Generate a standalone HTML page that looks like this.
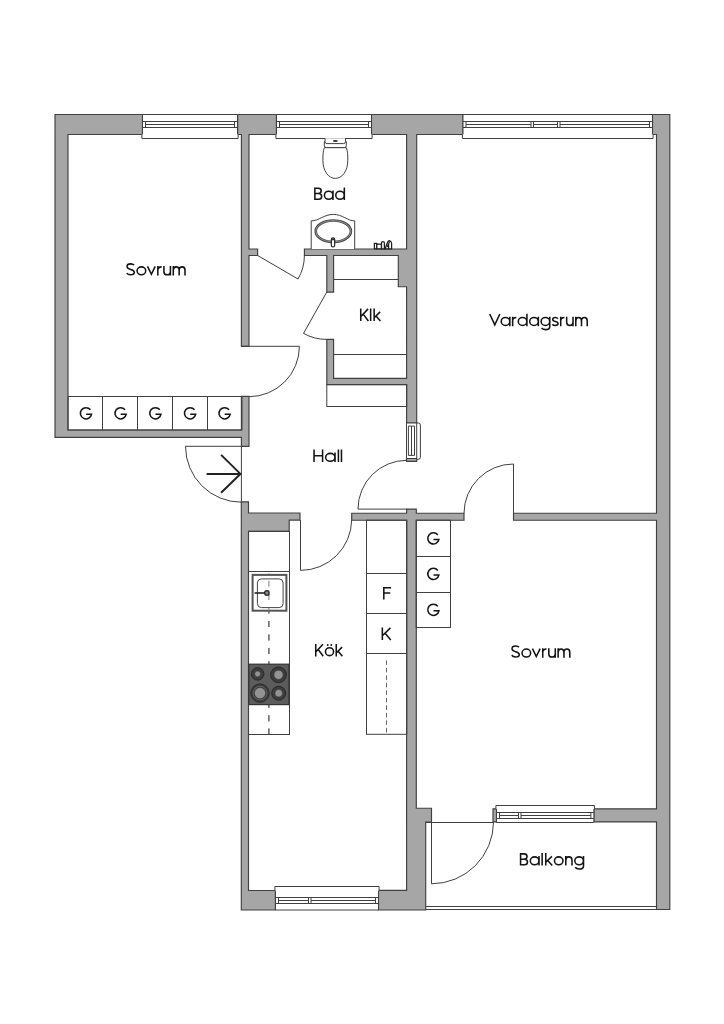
<!DOCTYPE html><html><head><meta charset="utf-8"><style>html,body{margin:0;padding:0;background:#fff;}svg{display:block}text{font-family:"Liberation Sans",sans-serif;fill:#262626}</style></head><body>
<svg width="724" height="1024" viewBox="0 0 724 1024">
<rect width="724" height="1024" fill="#fff"/>
<path fill="#a6a6a6" stroke="#404040" stroke-width="1.15" stroke-linejoin="miter" d="M513.50,513.20 L656.50,513.20 L656.50,134.50 L652.50,134.50 L652.50,114.50 L669.80,114.50 L669.80,909.50 L656.50,909.50 L656.50,821.90 L593.90,821.90 L593.90,808.80 L656.50,808.80 L656.50,520.20 L513.50,520.20Z M493.00,808.80 L496.50,808.80 L496.50,821.90 L493.00,821.90Z M416.30,513.20 L464.00,513.20 L464.00,520.20 L416.30,520.20 L416.30,808.20 L431.50,808.20 L431.50,822.00 L425.70,822.00 L425.70,910.00 L378.50,910.00 L378.50,890.40 L406.60,890.40 L406.60,520.20 L351.70,520.20 L351.70,513.20 L406.60,513.20 L406.60,509.10 L416.30,509.10Z M333.60,292.10 L326.80,292.10 L326.80,255.50 L304.40,255.50 L304.40,249.00 L406.60,249.00 L406.60,134.50 L371.50,134.50 L371.50,114.50 L463.00,114.50 L463.00,134.50 L416.70,134.50 L416.70,423.00 L406.60,423.00 L406.60,384.60 L326.80,384.60 L326.80,339.40 L333.60,339.40 L333.60,378.30 L406.60,378.30 L406.60,286.70 L398.30,286.70 L398.30,255.50 L333.60,255.50Z M406.50,458.50 L416.70,458.50 L416.70,461.40 L406.50,461.40Z M300.00,513.00 L300.00,520.10 L289.20,520.10 L289.20,531.40 L248.50,531.40 L248.50,890.50 L275.40,890.50 L275.40,910.00 L241.30,910.00 L241.30,501.80 L248.50,501.80 L248.50,513.00Z M241.40,134.50 L237.70,134.50 L237.70,114.50 L276.40,114.50 L276.40,134.50 L249.00,134.50 L249.00,249.00 L257.60,249.00 L257.60,255.50 L249.00,255.50 L249.00,346.30 L241.40,346.30Z M55.00,437.30 L55.00,114.50 L142.50,114.50 L142.50,134.50 L68.00,134.50 L68.00,430.00 L241.40,430.00 L241.40,396.30 L249.00,396.30 L249.00,446.30 L241.40,446.30 L241.40,437.30Z"/>
<g stroke="#404040" stroke-width="1.0" fill="none">
<rect x="142.5" y="114.5" width="95.0" height="20.0" fill="#fff" stroke="none"/><path d="M142.5,134.5 V114.5 H237.5 V134.5" fill="none"/><path d="M141.9,134.5 V138.5 H238.1 V134.5" fill="#fff"/><path d="M142.5,121.5 H237.5 M142.5,127.5 H237.5 M145.5,124.5 H234.5 M145.5,121.5 V127.5 M234.5,121.5 V127.5" fill="none"/>
<rect x="276.5" y="114.5" width="95.0" height="20.0" fill="#fff" stroke="none"/><path d="M276.5,134.5 V114.5 H371.5 V134.5" fill="none"/><path d="M275.9,134.5 V138.5 H372.1 V134.5" fill="#fff"/><path d="M276.5,121.5 H371.5 M276.5,127.5 H371.5 M279.5,124.5 H368.5 M279.5,121.5 V127.5 M368.5,121.5 V127.5" fill="none"/>
<rect x="463" y="114.5" width="189.5" height="20.0" fill="#fff" stroke="none"/><path d="M463,134.5 V114.5 H652.5 V134.5" fill="none"/><path d="M462.4,134.5 V138.5 H653.1 V134.5" fill="#fff"/><path d="M463,121.5 H652.5 M463,127.5 H652.5 M466,124.5 H649.5 M466,121.5 V127.5 M649.5,121.5 V127.5" fill="none"/><rect x="531" y="121.5" width="2.5" height="6.0" fill="#fff"/><rect x="557.5" y="121.5" width="2.5" height="6.0" fill="#fff"/>
<rect x="275.5" y="890.5" width="103.0" height="19.5" fill="#fff" stroke="none"/><path d="M275.5,890.5 V910 H378.5 V890.5" fill="none"/><path d="M274.9,890.5 V886.5 H379.1 V890.5" fill="#fff"/><path d="M275.5,897.5 H378.5 M275.5,903.5 H378.5 M278.5,900.5 H375.5 M278.5,897.5 V903.5 M375.5,897.5 V903.5" fill="none"/><rect x="308.5" y="897.5" width="2.5" height="6.0" fill="#fff"/>
<rect x="496.5" y="808.8" width="97.4" height="13.7" fill="#fff" stroke="none"/><path d="M496.5,808.8 V822.5 H593.9 V808.8" fill="none"/><path d="M495.9,808.8 V805.5 H594.5 V808.8" fill="#fff"/><path d="M496.5,812.5 H593.9 M496.5,818.5 H593.9 M499.5,815.5 H590.9 M499.5,812.5 V818.5 M590.9,812.5 V818.5" fill="none"/><rect x="518.5" y="812.5" width="2.5" height="6.0" fill="#fff"/>
</g>
<g stroke="#404040" stroke-width="1.0" fill="#fff">
<path d="M416.7,423 H418.4 Q420.4,423 420.4,425 V457.3 Q420.4,459.3 418.4,459.3 H416.7"/>
<rect x="406.5" y="423" width="10.2" height="35.5"/>
<path d="M408.4,426.1 V455.4 M411.5,426.1 V455.4 M414.5,426.1 V455.4 M408.4,426.1 H414.5 M408.4,455.4 H414.5" fill="none"/>
</g>
<g stroke="#404040" stroke-width="1.0" fill="none">
<path d="M257.6,255.5 L298,279 A46.7,46.7 0 0 0 304.4,255.5"/>
<path d="M326.8,292 L303.5,333.4 A47.4,47.4 0 0 0 326.8,339.4"/>
<path d="M241.4,346.3 H299.4 A50.4,50.4 0 0 1 249,396.7"/>
<path d="M241.4,446.3 H185.5 A55.9,55.9 0 0 0 241.4,502.2 M241.4,446.3 V502"/>
<path d="M300.5,520 V570.4 A51.2,51.2 0 0 0 351.7,520"/>
<path d="M406.8,509.1 H358 A48.8,48.8 0 0 1 406.8,460.3"/>
<path d="M513.5,513.3 V464 A49.5,49.5 0 0 0 464,513.3"/>
<path d="M431.5,822 V883.8 A62,62 0 0 0 493.5,822"/>
<path d="M425.7,822.5 H493.5 M425.7,906.5 H656.8 M425.7,909.5 H656.8"/>
</g>
<path d="M206.6,473.9 H240.4 M221.1,454.9 L240.4,473.9 L221.1,492.8" stroke="#222" stroke-width="2" fill="none"/>
<g stroke="#404040" stroke-width="1.0" fill="none">
<rect x="68" y="396.5" width="174" height="33.5"/>
<path d="M102.5,396.5V430 M137.5,396.5V430 M172.5,396.5V430 M207.5,396.5V430"/>
<path d="M333.6,279.5 H398.3 M333.6,354.5 H406.7"/>
<rect x="326.8" y="384.6" width="79.9" height="21.9"/>
<rect x="248.5" y="531.4" width="41" height="203.1"/>
<path d="M248.5,571.5 H289.5"/>
<rect x="366.5" y="520.2" width="40.3" height="214.1"/>
<path d="M366.5,573.5 H406.8 M366.5,613.5 H406.8 M366.5,653.5 H406.8"/>
<rect x="416.2" y="520.2" width="34.3" height="107.3"/>
<path d="M416.2,556.5 H450.5 M416.2,592.5 H450.5"/>
</g>
<path d="M268.8,573 V734" stroke="#777" stroke-width="1.6" stroke-dasharray="6 7.45" stroke-dashoffset="5.8" fill="none"/>
<path d="M386.5,660.4 V734" stroke="#555" stroke-width="0.9" stroke-dasharray="4.5 3" fill="none"/>
<rect x="252.6" y="574.9" width="33.8" height="35.8" fill="#fff" stroke="#555" stroke-width="2"/>
<rect x="257.4" y="578.9" width="25.7" height="28.7" rx="4" fill="#fff" stroke="#444" stroke-width="1.0"/>
<path d="M268.8,573 V734" stroke="#777" stroke-width="1.6" stroke-dasharray="6 7.45" stroke-dashoffset="5.8" fill="none" opacity="0.6"/>
<path d="M254.5,593 H265" stroke="#222" stroke-width="1.6"/>
<circle cx="266.9" cy="593" r="2.3" fill="#888" stroke="#222" stroke-width="1.2"/>
<rect x="248.8" y="664.2" width="40.2" height="40.4" fill="#5c5c5c" stroke="#333" stroke-width="1.2"/>
<circle cx="257.6" cy="673.9" r="6.3" fill="#3c3c3c" stroke="#2a2a2a" stroke-width="1"/>
<circle cx="257.6" cy="673.9" r="2.9" fill="#939393" stroke="#3a3a3a" stroke-width="0.6"/>
<circle cx="278.5" cy="674.8" r="7.9" fill="#3c3c3c" stroke="#2a2a2a" stroke-width="1"/>
<circle cx="278.5" cy="674.8" r="4.6" fill="#939393" stroke="#3a3a3a" stroke-width="0.6"/>
<circle cx="260" cy="693.1" r="9.2" fill="#3c3c3c" stroke="#2a2a2a" stroke-width="1"/>
<circle cx="260" cy="693.1" r="5.6" fill="#939393" stroke="#3a3a3a" stroke-width="0.6"/>
<circle cx="278.7" cy="693.2" r="7" fill="#3c3c3c" stroke="#2a2a2a" stroke-width="1"/>
<circle cx="278.7" cy="693.2" r="3.8" fill="#939393" stroke="#3a3a3a" stroke-width="0.6"/>
<circle cx="260" cy="693.1" r="6.9" fill="none" stroke="#707070" stroke-width="0.7"/>
<g stroke="#404040" stroke-width="1.0" fill="#fff">
<path d="M324.4,147.6 C322.9,151 322.9,156 322.9,160.3 C322.9,171 328.5,178.4 335.35,178.4 C342.2,178.4 347.8,171 347.8,160.3 C347.8,156 347.8,151 346.3,147.6 Z"/>
<path d="M324.3,141.6 V145.6 Q324.3,147.6 326.3,147.6 H344.3 Q346.3,147.6 346.3,145.6 V141.6 Z"/>
<path d="M325,138.3 V141.6 Q325,143.6 327,143.6 H343.5 Q345.5,143.6 345.5,141.6 V138.3"/>
<ellipse cx="335.4" cy="141" rx="2.5" ry="1.1" fill="#333" stroke="none"/>
</g>
<g stroke="#404040" stroke-width="1.0" fill="#fff">
<path d="M311.2,249 V220.9 C319,220.9 324,214.4 333.3,214.4 C342.6,214.4 347.6,220.9 354.7,220.9 V249"/>
<ellipse cx="333.3" cy="231.2" rx="17.6" ry="10.7" stroke="#4a4a4a" stroke-width="2.6"/>
<ellipse cx="333.3" cy="231.2" rx="17.6" ry="10.7" stroke="#bbb" stroke-width="0.6" fill="none"/>
<rect x="331.3" y="237.8" width="3.4" height="9.2" rx="1.7" stroke="#222" stroke-width="1.2"/>
<circle cx="333" cy="239.4" r="1" fill="#222" stroke="none"/>
</g>
<g stroke="#1e1e1e" stroke-width="1.25" fill="#fff">
<rect x="374.4" y="243.4" width="2.4" height="5.4"/>
<rect x="376.8" y="244.2" width="4.7" height="4.6"/>
<path d="M381.5,248.8 V243 Q381.5,241.6 383,241.6 Q384.4,241.6 384.4,243 V248.8 Z"/>
<path d="M385.2,248.8 L387.6,242 Q388.8,240.2 390.2,241 Q391.6,241.8 391.6,243.6 V248.8 Z"/>
<path d="M387.2,247 L389.6,241.6 M388.6,244.2 V248.8" fill="none"/>
</g>
<path d="M134.03,265.10C133.36,264.20 132.14,263.88 130.60,263.88C128.45,263.88 127.02,264.90 127.02,266.60C127.02,270.60 134.34,268.30 134.34,272.30C134.34,274.00 132.85,274.83 130.60,274.83C128.86,274.83 127.43,274.20 126.77,273.00M145.72,270.85C145.72,273.05 143.78,274.83 141.40,274.83C139.01,274.83 137.07,273.05 137.07,270.85C137.07,268.65 139.01,266.88 141.40,266.88C143.78,266.88 145.72,268.65 145.72,270.85M147.53,266.40L151.37,274.30L155.21,266.40M157.84,275.60L157.84,266.10M157.84,270.30C157.84,268.00 158.99,266.88 161.65,266.88M163.93,266.10L163.93,271.70C163.93,273.80 165.18,274.83 167.18,274.83C169.17,274.83 170.43,273.80 170.43,271.70M170.43,266.10L170.43,275.60M173.29,275.60L173.29,266.10M173.29,270.30C173.29,268.00 174.34,266.88 176.18,266.88C178.13,266.88 179.15,268.00 179.15,270.30L179.15,275.60M179.15,270.30C179.15,268.00 180.28,266.88 182.17,266.88C184.06,266.88 185.01,268.00 185.01,270.30L185.01,275.60" fill="none" stroke="#141414" stroke-width="1.55" stroke-linecap="butt" stroke-linejoin="miter" stroke-miterlimit="6"/>
<path d="M318.56,199.22L314.87,199.22L314.87,188.28L318.16,188.28C320.04,188.28 321.23,189.20 321.23,190.85C321.23,192.50 320.04,193.55 318.16,193.55L314.87,193.55M318.16,193.55L318.56,193.55C320.54,193.55 321.65,194.80 321.65,196.45C321.65,198.20 320.54,199.22 318.56,199.22M332.89,195.25C332.89,197.45 331.00,199.22 328.66,199.22C326.32,199.22 324.43,197.45 324.43,195.25C324.43,193.05 326.32,191.28 328.66,191.28C331.00,191.28 332.89,193.05 332.89,195.25M332.99,190.50L332.99,200.00M344.23,195.25C344.23,197.45 342.34,199.22 340.00,199.22C337.66,199.22 335.77,197.45 335.77,195.25C335.77,193.05 337.66,191.28 340.00,191.28C342.34,191.28 344.23,193.05 344.23,195.25M344.33,187.50L344.33,200.00" fill="none" stroke="#141414" stroke-width="1.55" stroke-linecap="butt" stroke-linejoin="miter" stroke-miterlimit="6"/>
<path d="M360.75,308.60L360.75,321.10M368.08,308.85L360.75,316.70M363.26,314.15L368.38,321.00M370.64,308.60L370.64,321.10M374.15,308.60L374.15,321.10M380.11,311.85L374.15,317.70M376.02,315.90L380.41,321.00" fill="none" stroke="#141414" stroke-width="1.55" stroke-linecap="butt" stroke-linejoin="miter" stroke-miterlimit="6"/>
<path d="M489.75,314.00L494.79,324.90L499.83,314.00M509.74,321.45C509.74,323.65 507.83,325.43 505.48,325.43C503.12,325.43 501.21,323.65 501.21,321.45C501.21,319.25 503.12,317.48 505.48,317.48C507.83,317.48 509.74,319.25 509.74,321.45M509.84,316.70L509.84,326.20M512.64,326.20L512.64,316.70M512.64,320.90C512.64,318.60 513.76,317.48 516.36,317.48M526.82,321.45C526.82,323.65 524.91,325.43 522.55,325.43C520.19,325.43 518.28,323.65 518.28,321.45C518.28,319.25 520.19,317.48 522.55,317.48C524.91,317.48 526.82,319.25 526.82,321.45M526.92,313.70L526.92,326.20M538.25,321.45C538.25,323.65 536.34,325.43 533.98,325.43C531.62,325.43 529.71,323.65 529.71,321.45C529.71,319.25 531.62,317.48 533.98,317.48C536.34,317.48 538.25,319.25 538.25,321.45M538.35,316.70L538.35,326.20M549.68,321.45C549.68,323.65 547.77,325.43 545.41,325.43C543.06,325.43 541.15,323.65 541.15,321.45C541.15,319.25 543.06,317.48 545.41,317.48C547.77,317.48 549.68,319.25 549.68,321.45M549.78,316.70L549.78,326.50C549.78,328.60 548.06,329.60 545.46,329.60C543.67,329.60 542.27,329.00 541.52,327.90M557.95,318.65C557.40,317.80 556.50,317.48 555.30,317.48C553.80,317.48 552.75,318.20 552.75,319.45C552.75,322.30 558.05,320.60 558.05,323.60C558.05,324.85 557.00,325.43 555.25,325.43C554.00,325.43 552.95,325.00 552.40,324.20M560.72,326.20L560.72,316.70M560.72,320.90C560.72,318.60 561.84,317.48 564.44,317.48M566.66,316.70L566.66,322.30C566.66,324.40 567.88,325.43 569.83,325.43C571.77,325.43 573.00,324.40 573.00,322.30M573.00,316.70L573.00,326.20M575.79,326.20L575.79,316.70M575.79,320.90C575.79,318.60 576.82,317.48 578.61,317.48C580.51,317.48 581.51,318.60 581.51,320.90L581.51,326.20M581.51,320.90C581.51,318.60 582.61,317.48 584.46,317.48C586.30,317.48 587.23,318.60 587.23,320.90L587.23,326.20" fill="none" stroke="#141414" stroke-width="1.55" stroke-linecap="butt" stroke-linejoin="miter" stroke-miterlimit="6"/>
<path d="M314.04,449.60L314.04,462.10M322.58,449.60L322.58,462.10M314.04,455.80L322.58,455.80M334.93,457.35C334.93,459.55 332.85,461.33 330.28,461.33C327.71,461.33 325.63,459.55 325.63,457.35C325.63,455.15 327.71,453.38 330.28,453.38C332.85,453.38 334.93,455.15 334.93,457.35M335.04,452.60L335.04,462.10M338.41,449.60L338.41,462.10M341.46,449.60L341.46,462.10" fill="none" stroke="#141414" stroke-width="1.55" stroke-linecap="butt" stroke-linejoin="miter" stroke-miterlimit="6"/>
<path d="M315.74,643.90L315.74,656.40M322.95,644.15L315.74,652.00M318.21,649.45L323.24,656.30M333.57,651.65C333.57,653.85 331.75,655.62 329.52,655.62C327.28,655.62 325.47,653.85 325.47,651.65C325.47,649.45 327.28,647.67 329.52,647.67C331.75,647.67 333.57,649.45 333.57,651.65M336.25,643.90L336.25,656.40M342.12,647.15L336.25,653.00M338.10,651.20L342.41,656.30" fill="none" stroke="#141414" stroke-width="1.55" stroke-linecap="butt" stroke-linejoin="miter" stroke-miterlimit="6"/>
<circle cx="327.77" cy="645.00" r="0.9" fill="#141414"/>
<circle cx="331.27" cy="645.00" r="0.9" fill="#141414"/>
<path d="M519.00,647.30C518.34,646.40 517.12,646.08 515.59,646.08C513.45,646.08 512.02,647.10 512.02,648.80C512.02,652.80 519.31,650.50 519.31,654.50C519.31,656.20 517.83,657.03 515.59,657.03C513.85,657.03 512.43,656.40 511.76,655.20M530.65,653.05C530.65,655.25 528.72,657.03 526.34,657.03C523.97,657.03 522.04,655.25 522.04,653.05C522.04,650.85 523.97,649.08 526.34,649.08C528.72,649.08 530.65,650.85 530.65,653.05M532.46,648.60L536.29,656.50L540.11,648.60M542.74,657.80L542.74,648.30M542.74,652.50C542.74,650.20 543.88,649.08 546.53,649.08M548.80,648.30L548.80,653.90C548.80,656.00 550.05,657.03 552.04,657.03C554.03,657.03 555.28,656.00 555.28,653.90M555.28,648.30L555.28,657.80M558.13,657.80L558.13,648.30M558.13,652.50C558.13,650.20 559.18,649.08 561.01,649.08C562.95,649.08 563.97,650.20 563.97,652.50L563.97,657.80M563.97,652.50C563.97,650.20 565.09,649.08 566.98,649.08C568.87,649.08 569.81,650.20 569.81,652.50L569.81,657.80" fill="none" stroke="#141414" stroke-width="1.55" stroke-linecap="butt" stroke-linejoin="miter" stroke-miterlimit="6"/>
<path d="M524.33,864.83L520.58,864.83L520.58,853.88L523.93,853.88C525.84,853.88 527.05,854.80 527.05,856.45C527.05,858.10 525.84,859.15 523.93,859.15L520.58,859.15M523.93,859.15L524.33,859.15C526.35,859.15 527.48,860.40 527.48,862.05C527.48,863.80 526.35,864.83 524.33,864.83M538.91,860.85C538.91,863.05 536.98,864.83 534.60,864.83C532.23,864.83 530.30,863.05 530.30,860.85C530.30,858.65 532.23,856.88 534.60,856.88C536.98,856.88 538.91,858.65 538.91,860.85M539.01,856.10L539.01,865.60M542.13,853.10L542.13,865.60M545.76,853.10L545.76,865.60M551.92,856.35L545.76,862.20M547.69,860.40L552.23,865.50M562.98,860.85C562.98,863.05 561.07,864.83 558.72,864.83C556.37,864.83 554.47,863.05 554.47,860.85C554.47,858.65 556.37,856.88 558.72,856.88C561.07,856.88 562.98,858.65 562.98,860.85M565.80,865.60L565.80,856.10M565.80,860.30C565.80,858.00 566.93,856.88 568.89,856.88C570.86,856.88 571.99,858.00 571.99,860.30L571.99,865.60M583.42,860.85C583.42,863.05 581.49,864.83 579.11,864.83C576.74,864.83 574.81,863.05 574.81,860.85C574.81,858.65 576.74,856.88 579.11,856.88C581.49,856.88 583.42,858.65 583.42,860.85M583.52,856.10L583.52,865.90C583.52,868.00 581.78,869.00 579.16,869.00C577.35,869.00 575.94,868.40 575.19,867.30" fill="none" stroke="#141414" stroke-width="1.55" stroke-linecap="butt" stroke-linejoin="miter" stroke-miterlimit="6"/>
<path d="M90.41,409.85 A5.6,5.6 0 1 0 91.51,414.30 H86.10" fill="none" stroke="#141414" stroke-width="1.55" stroke-linejoin="miter"/>
<path d="M125.01,409.85 A5.6,5.6 0 1 0 126.11,414.30 H120.70" fill="none" stroke="#141414" stroke-width="1.55" stroke-linejoin="miter"/>
<path d="M159.81,409.85 A5.6,5.6 0 1 0 160.91,414.30 H155.50" fill="none" stroke="#141414" stroke-width="1.55" stroke-linejoin="miter"/>
<path d="M194.51,409.85 A5.6,5.6 0 1 0 195.61,414.30 H190.20" fill="none" stroke="#141414" stroke-width="1.55" stroke-linejoin="miter"/>
<path d="M229.01,409.85 A5.6,5.6 0 1 0 230.11,414.30 H224.70" fill="none" stroke="#141414" stroke-width="1.55" stroke-linejoin="miter"/>
<path d="M437.81,534.95 A5.6,5.6 0 1 0 438.91,539.40 H433.50" fill="none" stroke="#141414" stroke-width="1.55" stroke-linejoin="miter"/>
<path d="M437.81,570.45 A5.6,5.6 0 1 0 438.91,574.90 H433.50" fill="none" stroke="#141414" stroke-width="1.55" stroke-linejoin="miter"/>
<path d="M437.81,606.35 A5.6,5.6 0 1 0 438.91,610.80 H433.50" fill="none" stroke="#141414" stroke-width="1.55" stroke-linejoin="miter"/>
<path d="M391.10,587.67L383.81,587.67L383.81,599.40M383.81,592.90L390.28,592.90" fill="none" stroke="#141414" stroke-width="1.55" stroke-linecap="butt" stroke-linejoin="miter" stroke-miterlimit="6"/>
<path d="M382.34,627.60L382.34,640.10M390.45,627.85L382.34,635.70M385.11,633.15L390.78,640.00" fill="none" stroke="#141414" stroke-width="1.55" stroke-linecap="butt" stroke-linejoin="miter" stroke-miterlimit="6"/>
</svg></body></html>
